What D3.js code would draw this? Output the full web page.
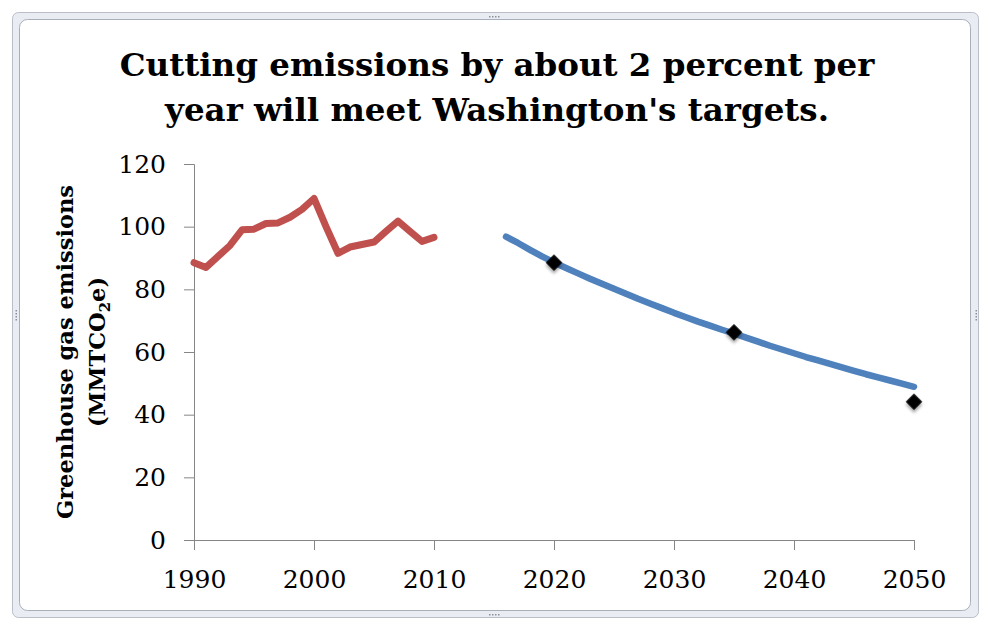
<!DOCTYPE html>
<html>
<head>
<meta charset="utf-8">
<title>Washington emissions</title>
<script src="https://cdnjs.cloudflare.com/ajax/libs/d3/7.8.5/d3.min.js"></script>
<style>
   body { margin: 0; background: #fff; }
   svg text { font-family: "DejaVu Serif", "Liberation Serif", serif; fill: #000; }
</style>
</head>
<body>
<script>
'use strict';

// historical inventory (red)
var historyYears  = [1990, 1991, 1992, 1993, 1994, 1995, 1996, 1997, 1998, 1999, 2000,
                     2001, 2002, 2003, 2004, 2005, 2006, 2007, 2008, 2009, 2010];
var historyValues = [88.5, 87.0, 90.5, 94.0, 99.0, 99.2, 101.0, 101.2, 103.0, 105.5, 109.0,
                     100.0, 91.5, 93.5, 94.3, 95.1, 98.5, 101.8, 98.5, 95.3, 96.6];

// ~2 percent per year path (blue)
var projectionYears  = [2016, 2017, 2018, 2019, 2020, 2021, 2022, 2023, 2024, 2025, 2026, 2027,
                        2028, 2029, 2030, 2031, 2032, 2033, 2034, 2035, 2036, 2037, 2038, 2039,
                        2040, 2041, 2042, 2043, 2044, 2045, 2046, 2047, 2048, 2049, 2050];
var projectionValues = [96.8, 94.8, 92.6, 90.5, 88.6, 86.8, 85.1, 83.4, 81.8, 80.2, 78.6, 77.0,
                        75.5, 74.0, 72.5, 71.1, 69.7, 68.4, 67.1, 65.9, 64.6, 63.3, 62.0, 60.8,
                        59.6, 58.4, 57.3, 56.2, 55.1, 54.0, 52.9, 51.9, 50.9, 49.9, 48.9];

// statutory targets (black diamonds)
var targetYears  = [2020, 2035, 2050];
var targetValues = [88.5, 66.3, 44.1];

var xTicks = [1990, 2000, 2010, 2020, 2030, 2040, 2050];
var yTicks = [0, 20, 40, 60, 80, 100, 120];

var titleLines = ["Cutting emissions by about 2 percent per",
                  "year will meet Washington's targets."];

window.onload = function(){

   var width = 989, height = 630;

   var svg = d3.select("body").append("svg")
      .attr("width", width)
      .attr("height", height);

   var defs = svg.append("defs");
   var shadow = defs.append("filter")
      .attr("id", "shadow")
      .attr("x", "-50%").attr("y", "-50%")
      .attr("width", "200%").attr("height", "200%");
   shadow.append("feDropShadow")
      .attr("dx", 2).attr("dy", 2)
      .attr("stdDeviation", 1.5)
      .attr("flood-color", "#000")
      .attr("flood-opacity", 0.35);

   // chart frame
   svg.append("rect")
      .attr("x", 12.5).attr("y", 12.5)
      .attr("width", 966).attr("height", 605)
      .attr("rx", 6)
      .style("fill", "#e9ecf2")
      .style("stroke", "#b9bec8");
   svg.append("rect")
      .attr("x", 19.5).attr("y", 19.5)
      .attr("width", 951).attr("height", 591)
      .attr("rx", 8)
      .style("fill", "#fff")
      .style("stroke", "#a9afba");

   // little grip dots on the frame
   var grips = [
      {x: 489, y: 16, dx: 3, dy: 0}, {x: 489, y: 614, dx: 3, dy: 0},
      {x: 15.5, y: 310, dx: 0, dy: 3}, {x: 975.5, y: 310, dx: 0, dy: 3}
   ];
   grips.forEach(function(g){
      for (var i = 0; i < 4; i++) {
         svg.append("rect")
            .attr("x", g.x + i * g.dx).attr("y", g.y + i * g.dy)
            .attr("width", 1.5).attr("height", 1.5)
            .style("fill", "#8a909c");
      }
   });

   var x = d3.scaleLinear().domain([1990, 2050]).range([194, 914]);
   var y = d3.scaleLinear().domain([0, 120]).range([540, 164]);

   // title
   svg.append("text")
      .attr("x", 497)
      .attr("text-anchor", "middle")
      .style("font-weight", "bold")
      .style("font-size", "32.5px")
      .selectAll("tspan")
      .data(titleLines)
      .enter()
      .append("tspan")
      .attr("x", 497)
      .attr("y", function(d, i){ return 76 + i * 45; })
      .text(function(d){ return d; });

   // axes
   var xAxis = d3.axisBottom(x)
      .tickValues(xTicks)
      .tickFormat(d3.format("d"))
      .tickSize(10)
      .tickPadding(20);
   var yAxis = d3.axisLeft(y)
      .tickValues(yTicks)
      .tickSize(10)
      .tickPadding(18);

   var gx = svg.append("g")
      .attr("transform", "translate(0," + y(0) + ")")
      .call(xAxis);
   var gy = svg.append("g")
      .attr("transform", "translate(" + x(1990) + ",0)")
      .call(yAxis);

   [gx, gy].forEach(function(g){
      g.select(".domain").attr("stroke", "#868686");
      g.selectAll(".tick line").attr("stroke", "#868686");
      g.selectAll(".tick text")
         .attr("font-family", null)
         .attr("font-size", null)
         .style("font-size", "25px");
   });

   // y axis title
   var yLabel = svg.append("text")
      .attr("transform", "translate(0,352) rotate(-90)")
      .attr("text-anchor", "middle")
      .style("font-weight", "bold")
      .style("font-size", "22.5px");
   yLabel.append("tspan")
      .attr("x", 0).attr("y", 73)
      .text("Greenhouse gas emissions");
   var line2 = yLabel.append("tspan")
      .attr("x", 0).attr("y", 105);
   line2.append("tspan").text("(MMTCO");
   line2.append("tspan")
      .attr("dy", 5)
      .style("font-size", "15px")
      .text("2");
   line2.append("tspan")
      .attr("dy", -5)
      .text("e)");

   var lineFunction = d3.line()
      .x(function(d){ return x(d[0]); })
      .y(function(d){ return y(d[1]); });

   svg.append("path")
      .attr("d", lineFunction(d3.zip(historyYears, historyValues)))
      .attr("stroke", "#c0504d")
      .attr("stroke-width", 7)
      .attr("stroke-linejoin", "round")
      .attr("stroke-linecap", "round")
      .attr("fill", "none");

   svg.append("path")
      .attr("d", lineFunction(d3.zip(projectionYears, projectionValues)))
      .attr("stroke", "#4f81bd")
      .attr("stroke-width", 6.5)
      .attr("stroke-linejoin", "round")
      .attr("stroke-linecap", "round")
      .attr("fill", "none");

   var diamond = d3.symbol().type(d3.symbolSquare).size(135);

   svg.selectAll(".target")
      .data(d3.zip(targetYears, targetValues))
      .enter()
      .append("path")
      .attr("class", "target")
      .attr("d", diamond)
      .attr("transform", function(d){
         return "translate(" + x(d[0]) + "," + y(d[1]) + ") rotate(45)";
      })
      .attr("filter", "url(#shadow)")
      .style("fill", "#000");
};
</script>
</body>
</html>
